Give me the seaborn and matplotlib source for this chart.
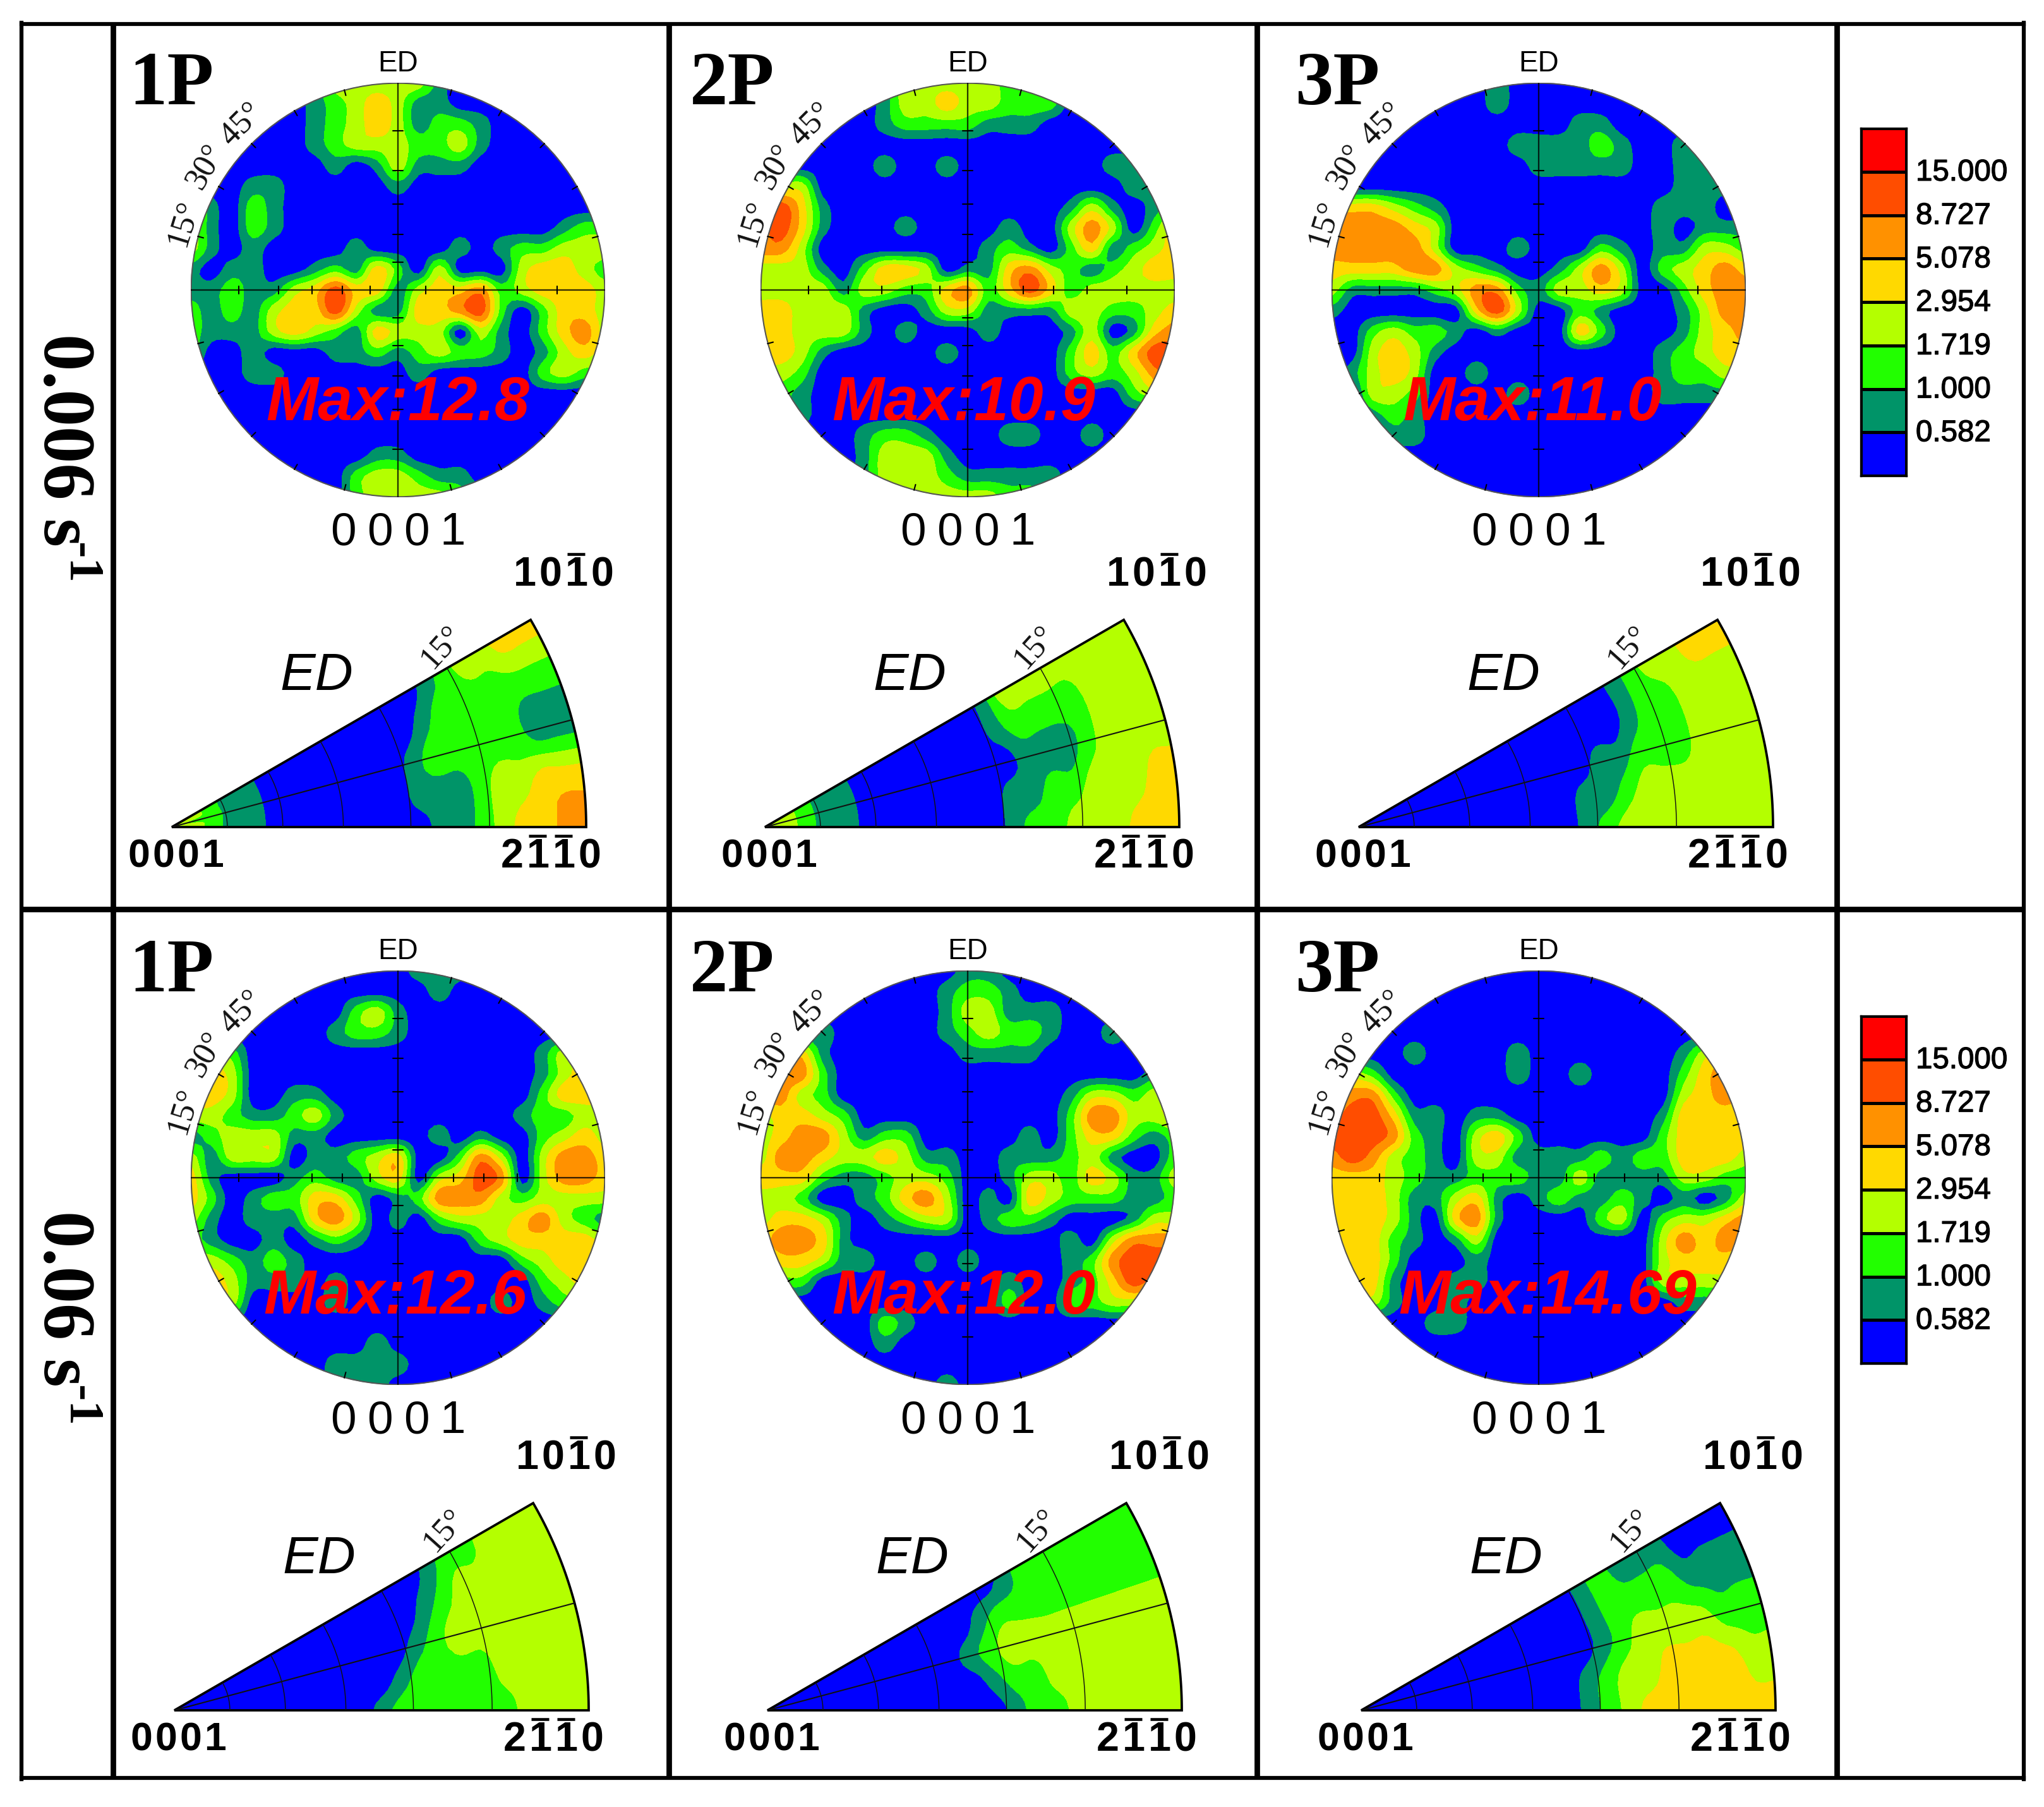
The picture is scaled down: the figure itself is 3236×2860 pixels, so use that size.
# -*- coding: utf-8 -*-
"""Pole figures and inverse pole figures for two strain rates, 1P to 3P."""

import numpy as np
import matplotlib
matplotlib.use('Agg')
import matplotlib.pyplot as plt
import matplotlib.patheffects as pe
from matplotlib.colors import ListedColormap
from matplotlib.patches import Circle, Polygon
import seaborn as sns

sns.set_theme(style='white')
plt.rcParams['font.family'] = ['Liberation Sans', 'DejaVu Sans']

W, H = 3237, 2860

# Band index: 0 blue ... 7 red, one digit per grid node
BAND_COLORS = ['#0000ff', '#009468', '#22ff00', '#b4ff00', '#ffd900', '#ff9100', '#ff4d00', '#ff0000']
LEVEL_LABELS = ['15.000', '8.727', '5.078', '2.954', '1.719', '1.000', '0.582']
PASS_LABELS = ['1P', '2P', '3P']
MAX_LOW = ['Max:12.8', 'Max:10.9', 'Max:11.0']
MAX_HIGH = ['Max:12.6', 'Max:12.0', 'Max:14.69']

PF_LOW_1P = [
    "000000133333100000000", "000000123431100000000", "000000123431221000000",
    "000000123332231000000", "000000010131110000000", "000110000010000000000",
    "310210000000000000000", "310210000000000000122", "310100001000010122333",
    "101100121420300034432", "112113464413445234443", "212134463114456202443",
    "211134321433303102453", "200100011212322101343", "000110000001000002322",
    "000000000000000000000", "000000000000000000000", "000000000000000000000",
    "000000000110000000000", "000000002332110000000", "000000002333321000000",
]
PF_LOW_2P = [
    "000000133333222100000", "000000133433222000000", "000000122221110000000",
    "000000000000000000000", "000000100100000001100", "433000000000000000111",
    "564100000000000131012", "564100010000100353024", "553000000001210241234",
    "333102443011453212344", "333313322452464233333", "443331001331111332234",
    "443331010001000130145", "443100000100000242466", "332000000000000232356",
    "321000000000000000233", "221000000000000000000", "000001221000110010000",
    "000001333100000000000", "000001333211111000000", "000000333333221000000",
]
PF_LOW_3P = [
    "000000001000000000000", "000000001000000000000", "000000000000110000000",
    "000000000111121001000", "000000000011111001120", "000000000000000001111",
    "444321000000000011100", "555543000000000010111", "555553000100021011332",
    "444455321001353023454", "311112355213343002455", "100000046300210001355",
    "002322101000420001345", "003431000000000012344", "013430010000000012233",
    "003320000100000011110", "001210000000000000000", "000110000000000000000",
    "000000000000000000000", "000000000000000000000", "000000000000000000000",
]
PF_HIGH_1P = [
    "000000000001110000000", "000000000000100000000", "000000002310000000000",
    "000000012210000000000", "332000000000000001333", "443000000000000001344",
    "443001100000000002444", "332112310000000012233", "123331100000101002343",
    "313330112340025303554", "410001211340346503554", "420122442012555323333",
    "310111453010233345321", "210010121000002344443", "332121000000000023444",
    "343111010000000002344", "333000010000000101222", "000000000000000000000",
    "000000000100000000000", "000000011110000000000", "000000011100000000000",
]
PF_HIGH_2P = [
    "000000000011000000000", "000000000122100000000", "000000000133111000000",
    "000100000123221001000", "444100000011110000000", "555200000000000000011",
    "553200000000000133233", "344320000000000255334", "345531220000010244212",
    "355433431100111231002", "444211233200133243113", "332001245301043222112",
    "344310123301221000133", "455410000000000103555", "344311001010000125666",
    "222000000000100124655", "000000000000200223333", "000000210000000000000",
    "000000100000000000000", "000000000000000000000", "000000000100000000000",
]
PF_HIGH_3P = [
    "000000000000000000000", "000000000000000000000", "000000000000000000000",
    "000000000000000000000", "000010000100000001344", "332000000100100002454",
    "455200000000000003454", "566411011000000014444", "666521034200000024444",
    "565321033111121224443", "444321122211311113322", "444311341012112101013",
    "444310451000023023345", "444210130000000035455", "544200010000000034443",
    "444100110000000033332", "333100100000000001110", "000001100000000000000",
    "000000000000000000000", "000000000000000000000", "000000000000000000000",
]

# Inverse pole figures: rows are angle 0, 7.5, 15, 22.5, 30 deg, columns radius 0 to 1
IPF_LOW_1P = ["332110000000011234455", "332110000000111233444", "322110000000122222111",
              "332110000000012222222", "332110000000001233444"]
IPF_LOW_2P = ["332110000000122333444", "332110000000112233344", "332110000000011123333",
              "332110000000122223333", "332110000000133333333"]
IPF_LOW_3P = ["000000000001233333333", "000000000001123333333", "000000000000112223333",
              "000000000000001223333", "000000000000001233444"]
IPF_HIGH_1P = ["000000000012222223333", "000000000001222233333", "000000000000123333333",
               "000000000000012333333", "000000000000001223333"]
IPF_HIGH_2P = ["000000000000122333333", "000000000001223333333", "000000000012333333333",
               "000000000001222222222", "000000000000012222222"]
IPF_HIGH_3P = ["000000000001234444444", "000000000001233444433", "000000000000123333222",
               "000000000000122221111", "000000000000121110000"]

UPSAMPLE = 4


def to_grid(rows):
    return np.array([[int(c) for c in row] for row in rows], dtype=float)


def along(a):
    # Catmull-Rom through the nodes along the first axis, keeps the read values
    m = a.shape[0]
    p = np.pad(a, ((1, 1), (0, 0)), mode='edge')
    t = np.linspace(0, m - 1, (m - 1) * UPSAMPLE + 1)
    i = np.minimum(t.astype(int), m - 2)
    f = (t - i)[:, None]
    p0, p1, p2, p3 = p[i], p[i + 1], p[i + 2], p[i + 3]
    return 0.5 * (2 * p1 + (p2 - p0) * f + (2 * p0 - 5 * p1 + 4 * p2 - p3) * f ** 2
                  + (3 * p1 - p0 - 3 * p2 + p3) * f ** 3)


def rounded(rows):
    return np.clip(along(along(to_grid(rows)).T).T, 0, 7)


def px_axes(x0, y0, x1, y1, zorder=1):
    ax = fig.add_axes([x0 / W, 1 - y1 / H, (x1 - x0) / W, (y1 - y0) / H], zorder=zorder)
    ax.patch.set_alpha(0)
    return ax


fig = plt.figure(figsize=(W / 300, H / 300), dpi=300, facecolor='white')
band_levels = np.arange(-0.5, 8.5, 1.0)
STEREO = [0.134, 0.268, 0.414, 0.577, 0.767]

# Full-figure layer in pixel coordinates for frame and text
overlay = px_axes(0, 0, W, H, zorder=5)
overlay.set_xlim(0, W)
overlay.set_ylim(H, 0)
overlay.axis('off')


def draw_pole(cx, cy, rows, radius=328):
    ax = px_axes(cx - radius, cy - radius, cx + radius, cy + radius)
    ax.set_xlim(-1, 1)
    ax.set_ylim(-1, 1)
    ax.axis('off')
    coords = np.linspace(-1, 1, 20 * UPSAMPLE + 1)
    cs = ax.contourf(coords, coords[::-1], rounded(rows), levels=band_levels, colors=BAND_COLORS)
    clip = Circle((0, 0), 1, transform=ax.transData)
    cs.set_clip_path(clip)
    ax.add_patch(Circle((0, 0), 0.998, fill=False, ec='#555555', lw=0.5))
    ax.plot([-1, 1], [0, 0], color='black', lw=0.55, alpha=0.8)
    ax.plot([0, 0], [-1, 1], color='black', lw=0.55, alpha=0.8)
    for r in STEREO:
        for sign in (-1, 1):
            ax.plot([sign * r, sign * r], [-0.018, 0.018], color='black', lw=0.5)
            ax.plot([-0.024, 0.024], [sign * r, sign * r], color='black', lw=0.5)
    for ang in np.arange(15, 360, 15):
        if ang % 90 == 0:
            continue
        a = np.radians(ang)
        ax.plot([np.cos(a), 0.972 * np.cos(a)], [np.sin(a), 0.972 * np.sin(a)], color='black', lw=0.5)


def draw_ipf(ax0, ay0, rows, radius=656):
    top = radius * 0.52
    ax = px_axes(ax0, ay0 - top, ax0 + radius, ay0)
    ax.set_xlim(0, 1)
    ax.set_ylim(0, 0.52)
    ax.axis('off')
    rr = np.linspace(0, 1, 20 * UPSAMPLE + 1) * 1.006
    aa = np.radians(np.linspace(0, 30, 4 * UPSAMPLE + 1))
    x = np.outer(np.cos(aa), rr)
    y = np.outer(np.sin(aa), rr)
    cs = ax.contourf(x, y, rounded(rows), levels=band_levels, colors=BAND_COLORS)
    arc = np.radians(np.linspace(0, 30, 60))
    outline = np.vstack([[0, 0], np.column_stack([np.cos(arc), np.sin(arc)])])
    cs.set_clip_path(Polygon(outline, closed=True, transform=ax.transData))
    ax.add_patch(Polygon(outline, closed=True, fill=False, ec='black', lw=0.9, clip_on=False))
    for r in STEREO:
        ax.plot(r * np.cos(arc), r * np.sin(arc), color='#111111', lw=0.35)
    ax.plot([0, np.cos(np.radians(15))], [0, np.sin(np.radians(15))], color='#111111', lw=0.5)


def miller(x, y, digits, bars, size, pitch, weight='bold'):
    start = x - pitch * (len(digits) - 1) / 2
    for i, d in enumerate(digits):
        xi = start + i * pitch
        overlay.text(xi, y, d, ha='center', va='center', fontsize=size, fontweight=weight, color='black')
        if i in bars:
            overlay.plot([xi - 14, xi + 14], [y - 33, y - 33], color='black', lw=1.1, solid_capstyle='butt')


# Layout in reference pixels
pf_x = [630, 1532, 2436]
pf_y = [459, 1864]
ipf_x = [[272, 1211, 2151], [276, 1215, 2155]]
ipf_y = [1309, 2707]
pass_x = [204, 1092, 2050]
pass_y = [165, 1569]
max_x = [[630, 1526, 2426], [626, 1526, 2450]]
max_y = [640, 2054]
high_low = [[PF_LOW_1P, PF_LOW_2P, PF_LOW_3P], [PF_HIGH_1P, PF_HIGH_2P, PF_HIGH_3P]]
ipf_rows = [[IPF_LOW_1P, IPF_LOW_2P, IPF_LOW_3P], [IPF_HIGH_1P, IPF_HIGH_2P, IPF_HIGH_3P]]
max_text = [MAX_LOW, MAX_HIGH]
hkil_y = [910, 2308]
bottom_y = [1356, 2754]
zero_y = [844, 2250]
serif = ['Liberation Serif', 'DejaVu Serif']

for row in range(2):
    for col in range(3):
        cx, cy = pf_x[col], pf_y[row]
        draw_pole(cx, cy, high_low[row][col])
        ax0, ay0 = ipf_x[row][col], ipf_y[row]
        draw_ipf(ax0, ay0, ipf_rows[row][col])

        overlay.text(pass_x[col], pass_y[row], PASS_LABELS[col], family=serif, fontsize=29,
                     fontweight='bold', ha='left', va='baseline', color='black')
        overlay.text(cx, cy - 358, 'ED', fontsize=11, ha='center', va='center', color='black')
        overlay.text(max_x[row][col], max_y[row], max_text[row][col], fontsize=23.7, fontweight='bold',
                     style='italic', color='#ff0000', ha='center', va='center')
        miller(cx, zero_y[row], '0001', [], 17.5, 58, weight='normal')

        for dx, dy, txt, rot in [(-340, -106, '15°', 73), (-305, -195, '30°', 60), (-248, -262, '45°', 45)]:
            overlay.text(cx + dx, cy + dy, txt, family=serif, fontsize=12.5, rotation=rot,
                         ha='center', va='center', color='#111111')

        miller(ax0 + 620, hkil_y[row], '1010', [2], 15.5, 41)
        miller(ax0 + 6, bottom_y[row], '0001', [], 15, 39)
        miller(ax0 + 600, bottom_y[row], '2110', [1, 2], 15.5, 41)
        overlay.text(ax0 + 229, ay0 - 239, 'ED', fontsize=20, style='italic', ha='center', va='center', color='black')
        overlay.text(ax0 + 427, ay0 - 285, '15°', family=serif, fontsize=12.5, rotation=48,
                     ha='center', va='center', color='#111111')

# Left column strain-rate labels, text runs downward
rate_labels = ['0.006 s', '0.06 s']
rate_top = [528, 1916]
rate_sup = [858, 2192]
for label, y0, y1 in zip(rate_labels, rate_top, rate_sup):
    overlay.text(98, y0, label, family=serif, fontsize=28, fontweight='bold', rotation=-90,
                 ha='center', va='top', rotation_mode='default', color='black')
    overlay.text(127, y1, '-1', family=serif, fontsize=19, fontweight='bold', rotation=-90,
                 ha='center', va='top', color='black')

# Colour legends drawn with a one-column heatmap
band_index = np.arange(len(BAND_COLORS) - 1, -1, -1).reshape(-1, 1)
for top in (203, 1608):
    cax = px_axes(2946, top, 3018, top + 550, zorder=2)
    sns.heatmap(band_index, ax=cax, cmap=ListedColormap(BAND_COLORS), vmin=-0.5, vmax=7.5,
                linewidths=0.8, linecolor='black', cbar=False, xticklabels=False, yticklabels=False)
    for spine in cax.spines.values():
        spine.set_visible(True)
        spine.set_color('black')
        spine.set_linewidth(0.8)
    for i, txt in enumerate(LEVEL_LABELS):
        t = overlay.text(3033, top + 2 + 68.75 * (i + 1), txt, fontsize=11.4, ha='left', va='center', color='black')
        t.set_path_effects([pe.withStroke(linewidth=0.3, foreground='black')])

# Frame
for x in (179, 1059, 1990, 2908):
    overlay.plot([x, x], [36, 2816], color='black', lw=2.1, solid_capstyle='butt')
overlay.plot([34, 3204], [1439, 1439], color='black', lw=2.1, solid_capstyle='butt')
for x in (34, 3204):
    overlay.plot([x, x], [36, 2816], color='black', lw=1.5, solid_capstyle='projecting')
for y in (38, 2814):
    overlay.plot([34, 3204], [y, y], color='black', lw=1.5, solid_capstyle='projecting')

fig.savefig('out.png', dpi=300, facecolor='white')
